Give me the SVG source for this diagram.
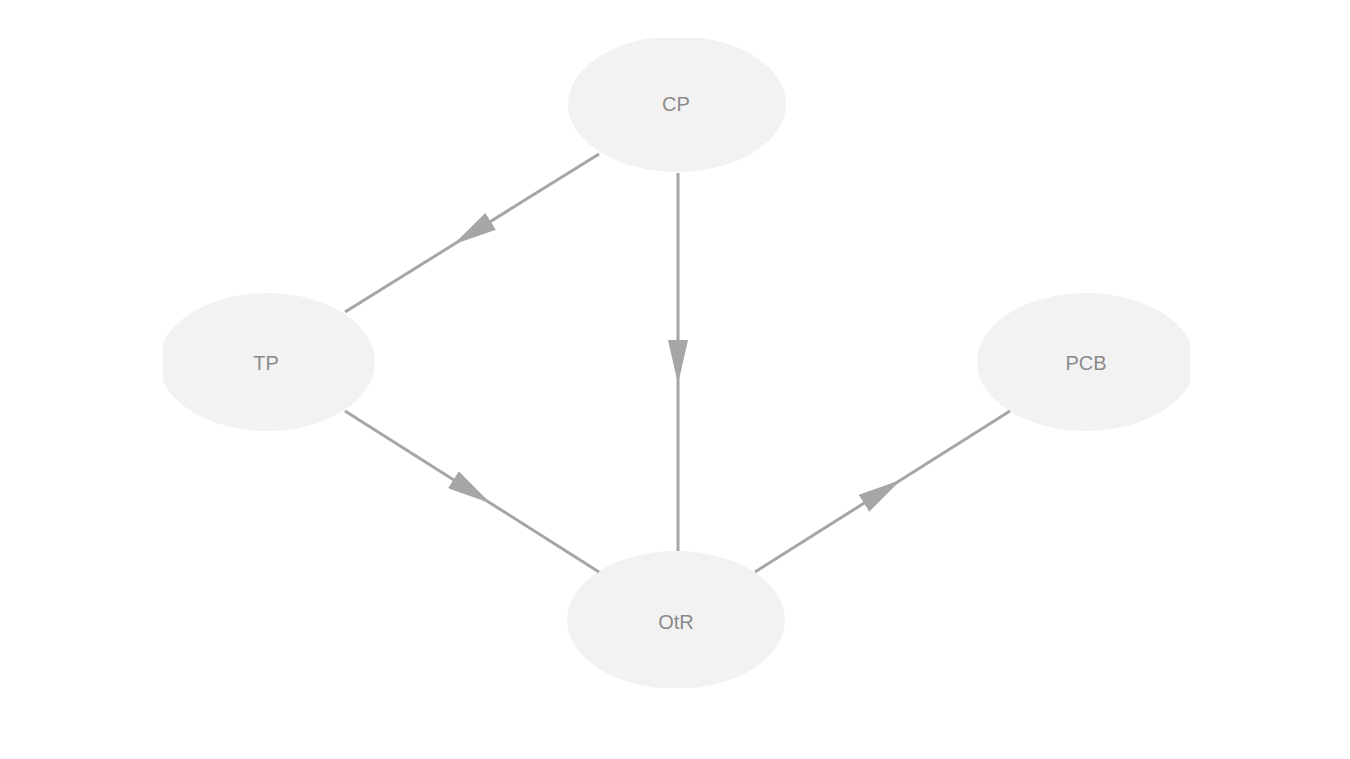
<svg xmlns="http://www.w3.org/2000/svg" width="1350" height="759" viewBox="0 0 1350 759">
  <defs>
    <clipPath id="area"><rect x="163" y="38" width="1027" height="650"/></clipPath>
    <marker id="arr" markerUnits="userSpaceOnUse" viewBox="0 0 44 20" markerWidth="44" markerHeight="20" refX="22" refY="10" orient="auto">
      <path d="M0,0 L44,10 L0,20 z" fill="#a6a6a6"/>
    </marker>
  </defs>
  <style>
    .node ellipse { fill: #f2f2f2; }
    .node text { font-family: "Liberation Sans", Arial, sans-serif; font-size: 20px; fill: #8a8a8a; text-anchor: middle; dominant-baseline: central; }
    .edge { stroke: #a6a6a6; stroke-width: 3; fill: none; marker-mid: url(#arr); }
  </style>
  <rect width="1350" height="759" fill="#ffffff"/>
  <g clip-path="url(#area)">
    <g id="node-CP" class="node"><ellipse cx="677" cy="104" rx="109" ry="68"/><text x="676" y="104">CP</text></g>
    <g id="node-TP" class="node"><ellipse cx="267" cy="362" rx="108" ry="69"/><text x="266" y="363">TP</text></g>
    <g id="node-PCB" class="node"><ellipse cx="1086" cy="362" rx="109" ry="69"/><text x="1086" y="363">PCB</text></g>
    <g id="node-OtR" class="node"><ellipse cx="676" cy="620" rx="109" ry="69"/><text x="676" y="622">OtR</text></g>
  </g>
  <g id="connectors">
    <path class="edge" d="M599,154 L472,233 L345,312"/>
    <path class="edge" d="M678,173 L678,362 L678,551"/>
    <path class="edge" d="M345,411 L472,491.5 L599,572"/>
    <path class="edge" d="M755,572 L882.5,491.5 L1010,411"/>
  </g>
</svg>
